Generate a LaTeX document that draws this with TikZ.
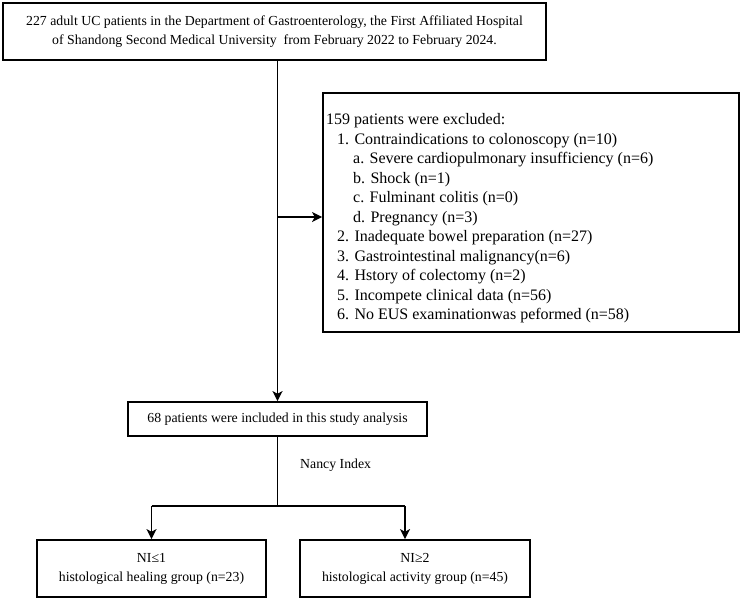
\documentclass[tikz,border=0pt]{standalone}
\usepackage{fontspec}
\setmainfont{Liberation Serif}
\usetikzlibrary{arrows.meta}
\begin{document}
\begin{tikzpicture}[x=1pt,y=-1pt,
  box/.style={draw,line width=1.7pt,inner sep=0pt,align=center,font=\fontsize{13.8}{19}\selectfont},
  conn/.style={line width=1.4pt},
  arr/.style={conn,-{Stealth[length=10pt,width=10pt,inset=2.5pt]}}]
\useasboundingbox (0,0) rectangle (742,600);
\node[box,minimum width=543,minimum height=57] (top) at (274.5,31.5)
  {227 adult UC patients in the Department of Gastroenterology, the First Affiliated Hospital\\
   of Shandong Second Medical University\ \ from February 2022 to February 2024.};
\node[box,minimum width=299,minimum height=34] (mid) at (277.5,419)
  {68 patients were included in this study analysis};
\node[box,minimum width=416,minimum height=239] (excl) at (531,212.5) {};
\node[anchor=west,align=left,inner sep=0pt,font=\fontsize{16}{19.5}\selectfont] (excltext) at (326,218.5)
  {159 patients were excluded:\\
   \hspace*{11pt}1. Contraindications to colonoscopy (n=10)\\
   \hspace*{27pt}a. Severe cardiopulmonary insufficiency (n=6)\\
   \hspace*{27pt}b. Shock (n=1)\\
   \hspace*{27pt}c. Fulminant colitis (n=0)\\
   \hspace*{27pt}d. Pregnancy (n=3)\\
   \hspace*{11pt}2. Inadequate bowel preparation (n=27)\\
   \hspace*{11pt}3. Gastrointestinal malignancy(n=6)\\
   \hspace*{11pt}4. Hstory of colectomy (n=2)\\
   \hspace*{11pt}5. Incompete clinical data (n=56)\\
   \hspace*{11pt}6. No EUS examinationwas peformed (n=58)};
\node[box,minimum width=229,minimum height=57] (left) at (151.5,568.5)
  {NI≤1\\histological healing group (n=23)};
\node[box,minimum width=230,minimum height=57] (right) at (415,568.5)
  {NI≥2\\histological activity group (n=45)};
\node[anchor=west,inner sep=0pt,font=\fontsize{13.8}{16}\selectfont] (nancy) at (300,465) {Nancy Index};
\coordinate (split) at (277.5,217);
\coordinate (branch) at (277.5,506);
\coordinate (rb) at (405,506);
\draw[arr] (mid.north |- top.south) -- (mid.north);
\draw[arr] (split) -- (split -| excl.west);
\draw[conn] (mid.south) -- (branch);
\draw[conn] (left.north |- branch) -- (rb);
\draw[arr] (left.north |- branch) -- (left.north);
\draw[arr] (rb) -- (rb |- right.north);
\end{tikzpicture}
\end{document}
